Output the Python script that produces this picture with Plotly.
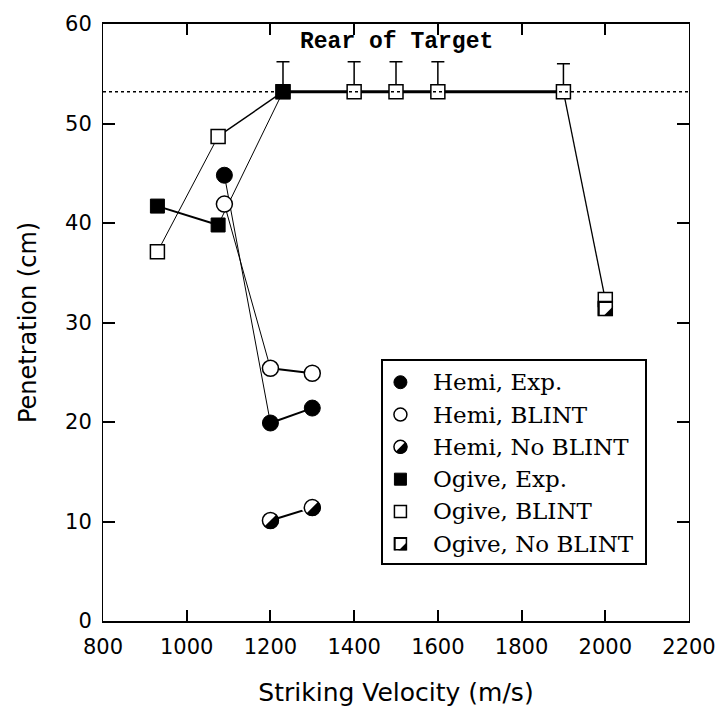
import plotly.graph_objects as go

# ---------------- data ----------------
hemi_exp_v = [1090, 1200, 1300]
hemi_exp_p = [44.8, 19.9, 21.4]

hemi_blint_v = [1090, 1200, 1300]
hemi_blint_p = [41.9, 25.4, 24.9]

hemi_noblint_v = [1200, 1300]
hemi_noblint_p = [10.1, 11.4]

ogive_exp_v = [930, 1075, 1230]
ogive_exp_p = [41.7, 39.8, 53.2]

ogive_blint_v = [930, 1075, 1230, 1400, 1500, 1600, 1900, 2000]
ogive_blint_p = [37.1, 48.7, 53.2, 53.2, 53.2, 53.2, 53.2, 32.3]
ogive_blint_err = [0, 0, 3.0, 3.0, 3.0, 3.0, 2.8, 0]

ogive_noblint_v = [2000]
ogive_noblint_p = [31.4]

rear_of_target = 53.2

x_ticks = [800, 1000, 1200, 1400, 1600, 1800, 2000, 2200]
y_ticks = [0, 10, 20, 30, 40, 50, 60]

legend_labels = ["Hemi, Exp.", "Hemi, BLINT", "Hemi, No BLINT",
                 "Ogive, Exp.", "Ogive, BLINT", "Ogive, No BLINT"]

# ---------------- styles ----------------
BLACK = "black"
CIRCLE = 16
SQUARE = 14
LEG_CIRCLE = 13
LEG_SQUARE = 12

fig = go.Figure()


def add_path(x, y, widths):
    for i, w in enumerate(widths):
        fig.add_trace(go.Scatter(x=x[i:i + 2], y=y[i:i + 2], mode="lines",
                                 line=dict(color=BLACK, width=w),
                                 showlegend=False, hoverinfo="skip"))


def add_markers(x, y, symbol, style, size, xa="x", ya="y", error=None):
    common = dict(x=x, y=y, mode="markers", xaxis=xa, yaxis=ya,
                  showlegend=False, hoverinfo="skip")
    if style == "filled":
        fig.add_trace(go.Scatter(**common, marker=dict(
            symbol=symbol, size=size, color=BLACK, line=dict(color=BLACK, width=1))))
    elif style == "open":
        kw = {}
        if error is not None:
            kw["error_y"] = dict(type="data", array=error, symmetric=False,
                                 arrayminus=[0] * len(error), color=BLACK,
                                 thickness=1.5, width=6.5)
        fig.add_trace(go.Scatter(**common, **kw, marker=dict(
            symbol=symbol, size=size, color="white", line=dict(color=BLACK, width=1.5))))
    else:  # half filled: lower-right half black
        fig.add_trace(go.Scatter(**common, marker=dict(
            symbol=symbol, size=size, color=BLACK, line=dict(color=BLACK, width=1))))
        if symbol == "circle":
            cover = dict(symbol="square", size=size + 2, angle=135,
                         standoff=(size + 2) / 2, color="white", line=dict(width=0))
        else:
            cover = dict(symbol="triangle-nw", size=size * 1.25 + 1,
                         color="white", line=dict(width=0))
        fig.add_trace(go.Scatter(**common, marker=cover))
        fig.add_trace(go.Scatter(**common, marker=dict(
            symbol=symbol, size=size, color="rgba(0,0,0,0)",
            line=dict(color=BLACK, width=1.5))))


# connecting lines (drawn beneath markers)
add_path(ogive_blint_v, ogive_blint_p, [1, 1.5, 3, 3, 3, 3, 1.3])
add_path(ogive_exp_v, ogive_exp_p, [2, 1])
add_path(hemi_exp_v, hemi_exp_p, [1, 2])
add_path(hemi_blint_v, hemi_blint_p, [1, 2])
add_path(hemi_noblint_v, hemi_noblint_p, [2])

# markers
add_markers(ogive_blint_v, ogive_blint_p, "square", "open", SQUARE, error=ogive_blint_err)
add_markers(ogive_exp_v, ogive_exp_p, "square", "filled", SQUARE)
add_markers(ogive_noblint_v, ogive_noblint_p, "square", "half", SQUARE)
add_markers(hemi_exp_v, hemi_exp_p, "circle", "filled", CIRCLE)
add_markers(hemi_blint_v, hemi_blint_p, "circle", "open", CIRCLE)
add_markers(hemi_noblint_v, hemi_noblint_p, "circle", "half", CIRCLE)

# ---------------- hand-built legend in its own small axes ----------------
legend_syms = [("circle", "filled"), ("circle", "open"), ("circle", "half"),
               ("square", "filled"), ("square", "open"), ("square", "half")]
for i, (sym, sty) in enumerate(legend_syms):
    add_markers([18], [i], sym, sty, LEG_CIRCLE if sym == "circle" else LEG_SQUARE,
                xa="x2", ya="y2")

annotations = []
for i, lab in enumerate(legend_labels):
    annotations.append(dict(x=49, y=i, xref="x2", yref="y2", text=lab,
                            xanchor="left", yanchor="middle", showarrow=False,
                            font=dict(family="DejaVu Serif", size=23, color=BLACK)))

annotations.append(dict(x=1500, y=58.2, xref="x", yref="y", text="<b>Rear of Target</b>",
                        xanchor="center", yanchor="middle", showarrow=False,
                        font=dict(family="Liberation Mono", size=23, color=BLACK)))

axis_common = dict(ticks="inside", tickcolor=BLACK, tickwidth=1.5, showline=True,
                   linecolor=BLACK, mirror="ticks", showgrid=False, zeroline=False,
                   tickfont=dict(family="DejaVu Sans", size=21, color=BLACK))

fig.update_layout(
    width=728, height=715,
    margin=dict(l=103, r=30, t=22, b=94),
    plot_bgcolor="white", paper_bgcolor="white",
    showlegend=False,
    font=dict(family="DejaVu Sans", size=21, color=BLACK),
    xaxis=dict(range=[800, 2200], tickvals=x_ticks, ticklen=11, linewidth=2,
               ticklabelstandoff=6,
               title=dict(text="Striking Velocity (m/s)", standoff=25,
                          font=dict(family="DejaVu Sans", size=25)),
               **axis_common),
    yaxis=dict(range=[0, 60], tickvals=y_ticks, ticklen=12, linewidth=1,
               ticklabelstandoff=6,
               title=dict(text="Penetration (cm)", standoff=21,
                          font=dict(family="DejaVu Sans", size=24)),
               **axis_common),
    xaxis2=dict(domain=[0.4773, 0.9244], range=[0, 266], anchor="y2",
                showline=True, mirror=True, linecolor=BLACK, linewidth=1.5,
                showgrid=False, zeroline=False, showticklabels=False, ticks=""),
    yaxis2=dict(domain=[0.0968, 0.4357], range=[5.6, -0.66], anchor="x2",
                showline=True, mirror=True, linecolor=BLACK, linewidth=1.5,
                showgrid=False, zeroline=False, showticklabels=False, ticks=""),
    annotations=annotations,
    shapes=[dict(type="line", xref="paper", x0=0, x1=1, yref="y",
                 y0=rear_of_target, y1=rear_of_target, layer="above",
                 line=dict(color=BLACK, width=1.5, dash="dot"))],
)

fig.write_html("out.html", config={"displayModeBar": False},
               post_script="document.body.style.margin='0';document.body.style.overflow='hidden';")
